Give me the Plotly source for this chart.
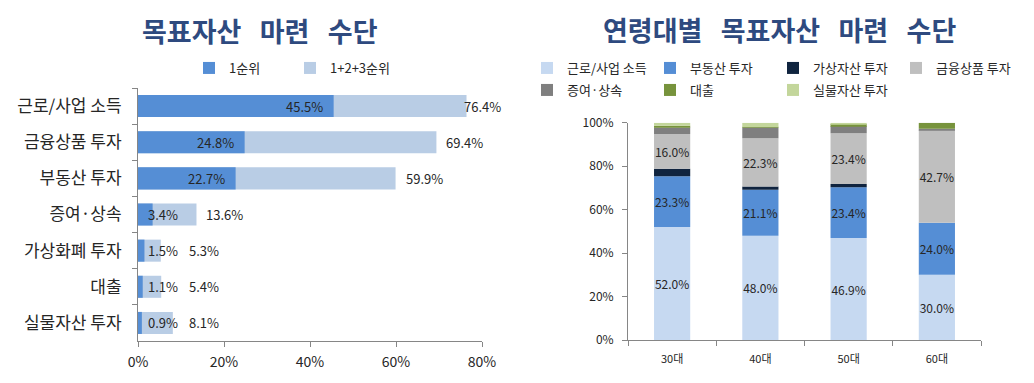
import plotly.graph_objects as go
import numpy as np

# ---------------- data ----------------
means = ["근로/사업 소득", "금융상품 투자", "부동산 투자", "증여·상속", "가상화폐 투자", "대출", "실물자산 투자"]
rank1 = [45.5, 24.8, 22.7, 3.4, 1.5, 1.1, 0.9]
rank123 = [76.4, 69.4, 59.9, 13.6, 5.3, 5.4, 8.1]
left_x_ticks = [0, 20, 40, 60, 80]

ages = ["30대", "40대", "50대", "60대"]
series_names = ["근로/사업 소득", "부동산 투자", "가상자산 투자", "금융상품 투자", "증여·상속", "대출", "실물자산 투자"]
s_income = [52.0, 48.0, 46.9, 30.0]
s_realestate = [23.3, 21.1, 23.4, 24.0]
s_crypto = [3.5, 1.5, 1.5, 0.0]
s_finance = [16.0, 22.3, 23.4, 42.7]
s_gift = [3.0, 4.9, 3.3, 0.5]
s_loan = [0.8, 0.2, 0.9, 2.8]
s_real_asset = [1.4, 2.0, 0.6, 0.0]
right_y_ticks = [0, 20, 40, 60, 80, 100]

series_values = [s_income, s_realestate, s_crypto, s_finance, s_gift, s_loan, s_real_asset]
series_colors = ["#C6D9F1", "#558ED5", "#10243F", "#BFBFBF", "#7F7F7F", "#77933C", "#C3D69B"]
labelled = [True, True, False, True, False, False, False]

W, H = 1034, 383
FONT = "Noto Sans CJK KR"
TXT = "#262626"
AX = "#868686"

def px_x(p):
    return p / W

def px_y(p):
    return 1 - p / H

fig = go.Figure()

# ---------------- left chart ----------------
fig.add_trace(go.Bar(
    y=means, x=rank123, orientation="h", name="1+2+3순위",
    marker=dict(color="#B9CDE5", line=dict(width=0)),
    xaxis="x", yaxis="y", legend="legend", legendrank=2, hoverinfo="x+y",
))
fig.add_trace(go.Bar(
    y=means, x=rank1, orientation="h", name="1순위",
    marker=dict(color="#558ED5", line=dict(width=0)),
    xaxis="x", yaxis="y", legend="legend", legendrank=1, hoverinfo="x+y",
))

annotations = []
small_cut = 10.0
num_font = dict(family=FONT, size=13, color=TXT)
for cat, v1, vt in zip(means, rank1, rank123):
    if v1 >= small_cut:
        annotations.append(dict(x=v1, y=cat, xref="x", yref="y", text=f"{v1:.1f}%",
                                xanchor="right", xshift=-9, showarrow=False, font=num_font))
    else:
        annotations.append(dict(x=0, y=cat, xref="x", yref="y", text=f"{v1:.1f}%",
                                xanchor="left", xshift=8, showarrow=False, font=num_font))
    annotations.append(dict(x=min(max(vt, 9.5), 75.4), y=cat, xref="x", yref="y", text=f"{vt:.1f}%",
                            xanchor="left", xshift=8 if vt < 75.4 else 0, showarrow=False, font=num_font))

# ---------------- right chart ----------------
vals = np.array(series_values)
bases = np.vstack([np.zeros(len(ages)), np.cumsum(vals, axis=0)[:-1]])
for i, name in enumerate(series_names):
    row1 = i < 4
    fig.add_trace(go.Bar(
        x=ages, y=vals[i], base=bases[i], name=name,
        marker=dict(color=series_colors[i], line=dict(width=0)),
        text=[f"{v:.1f}%" if labelled[i] and v > 0 else "" for v in vals[i]],
        textposition="inside", insidetextanchor="middle", textangle=0,
        textfont=dict(family=FONT, size=12, color=TXT),
        xaxis="x2", yaxis="y2", legend="legend2" if row1 else "legend3",
        width=0.41, hoverinfo="x+y",
    ))

# titles
SP = "\u00a0\u00a0\u00a0"
title_font = dict(family=FONT, size=27, color="#2E4A7F", weight="bold")
annotations.append(dict(x=px_x(260), y=px_y(31), xref="paper", yref="paper",
                        text=SP.join(["목표자산", "마련", "수단"]), showarrow=False,
                        font=title_font, xanchor="center", yanchor="middle"))
annotations.append(dict(x=px_x(779), y=px_y(29), xref="paper", yref="paper",
                        text=SP.join(["연령대별", "목표자산", "마련", "수단"]), showarrow=False,
                        font=title_font, xanchor="center", yanchor="middle"))

legend_font = dict(family=FONT, size=13, color=TXT)
axis_common = dict(showgrid=False, zeroline=False, showline=True, linecolor=AX, linewidth=1,
                   ticks="outside", ticklen=5, tickcolor=AX, automargin=False)
fig.update_layout(
    template="none",
    width=W, height=H, autosize=False,
    margin=dict(l=0, r=0, t=0, b=0, pad=0, autoexpand=False),
    paper_bgcolor="white", plot_bgcolor="white",
    barmode="overlay", bargap=0.39,
    uniformtext=dict(mode="show", minsize=12),
    showlegend=True,
    annotations=annotations,
    xaxis=dict(domain=[px_x(138), px_x(482)], range=[0, 80], tickvals=left_x_ticks,
               ticktext=[f"{v}%" for v in left_x_ticks], ticklabelstandoff=3,
               tickfont=dict(family=FONT, size=14, color=TXT), anchor="y", **axis_common),
    yaxis=dict(domain=[px_y(341), px_y(88)], autorange="reversed", type="category",
               tickson="boundaries",
               tickfont=dict(family=FONT, size=17, color=TXT), ticklabelstandoff=12, anchor="x",
               **axis_common),
    xaxis2=dict(domain=[px_x(628), px_x(981)], type="category", tickson="boundaries",
                ticklabelstandoff=9,
                tickfont=dict(family=FONT, size=11, color=TXT), anchor="y2", **axis_common),
    yaxis2=dict(domain=[px_y(340), px_y(122.7)], range=[0, 100], tickvals=right_y_ticks,
                ticktext=[f"{v}%" for v in right_y_ticks], ticklabelstandoff=6,
                tickfont=dict(family=FONT, size=12, color=TXT), anchor="x2", **axis_common),
    legend=dict(orientation="h", x=px_x(189), y=px_y(53), xanchor="left", yanchor="top",
                font=legend_font, entrywidth=56, entrywidthmode="pixels",
                traceorder="normal", bgcolor="rgba(0,0,0,0)"),
    legend2=dict(orientation="h", x=px_x(527), y=px_y(53), xanchor="left", yanchor="top",
                 font=legend_font, entrywidth=78, entrywidthmode="pixels",
                 traceorder="normal", bgcolor="rgba(0,0,0,0)"),
    legend3=dict(orientation="h", x=px_x(527), y=px_y(75), xanchor="left", yanchor="top",
                 font=legend_font, entrywidth=78, entrywidthmode="pixels",
                 traceorder="normal", bgcolor="rgba(0,0,0,0)"),
)

fig.write_html("out.html", config={"displayModeBar": False},
               post_script="document.body.style.margin='0px';")
